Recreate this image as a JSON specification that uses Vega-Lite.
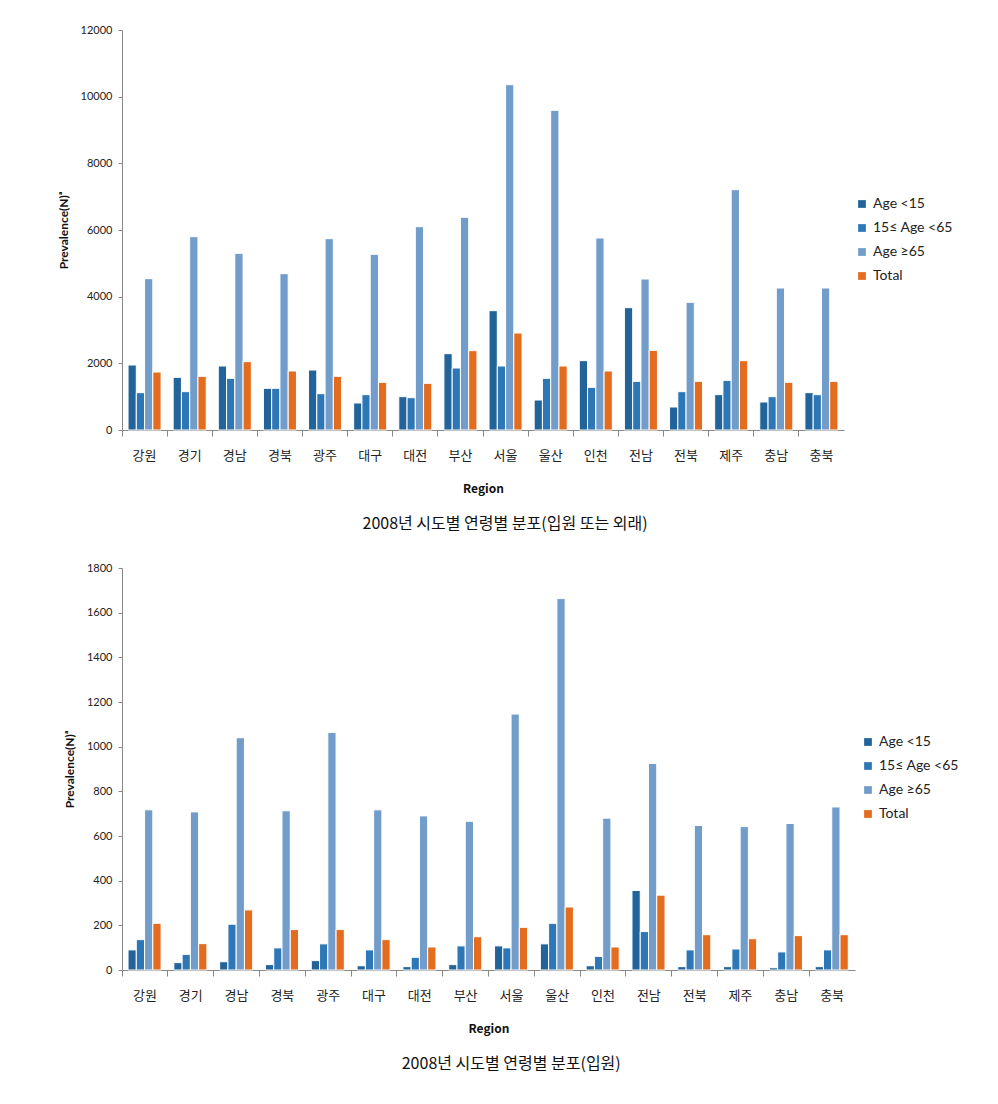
{
  "$schema": "https://vega.github.io/schema/vega-lite/v6.json",
  "padding": {"top": 24, "left": 57, "right": 5, "bottom": 5},
  "background": "white",
  "config": {
    "view": {"stroke": null},
    "axis": {"domainColor": "#888888", "tickColor": "#888888", "grid": false, "labelColor": "#222222", "titleColor": "#111111"},
    "legend": {"labelFont": "Lato", "labelFontSize": 14, "labelColor": "#222222", "symbolType": "square", "symbolSize": 60, "symbolStrokeWidth": 0, "rowPadding": 10, "labelOffset": 4}
  },
  "spacing": 30,
  "resolve": {"scale": {"color": "independent", "y": "independent", "x": "independent"}, "legend": {"color": "independent"}},
  "datasets": {
    "outpatient": [
      {"region": "강원", "group": "Age <15", "value": 1950},
      {"region": "강원", "group": "15≤ Age <65", "value": 1120},
      {"region": "강원", "group": "Age ≥65", "value": 4540},
      {"region": "강원", "group": "Total", "value": 1740},
      {"region": "경기", "group": "Age <15", "value": 1580},
      {"region": "경기", "group": "15≤ Age <65", "value": 1150},
      {"region": "경기", "group": "Age ≥65", "value": 5800},
      {"region": "경기", "group": "Total", "value": 1610},
      {"region": "경남", "group": "Age <15", "value": 1920},
      {"region": "경남", "group": "15≤ Age <65", "value": 1550},
      {"region": "경남", "group": "Age ≥65", "value": 5300},
      {"region": "경남", "group": "Total", "value": 2050},
      {"region": "경북", "group": "Age <15", "value": 1250},
      {"region": "경북", "group": "15≤ Age <65", "value": 1250},
      {"region": "경북", "group": "Age ≥65", "value": 4690},
      {"region": "경북", "group": "Total", "value": 1770},
      {"region": "광주", "group": "Age <15", "value": 1800},
      {"region": "광주", "group": "15≤ Age <65", "value": 1090},
      {"region": "광주", "group": "Age ≥65", "value": 5740},
      {"region": "광주", "group": "Total", "value": 1610},
      {"region": "대구", "group": "Age <15", "value": 810},
      {"region": "대구", "group": "15≤ Age <65", "value": 1060},
      {"region": "대구", "group": "Age ≥65", "value": 5270},
      {"region": "대구", "group": "Total", "value": 1430},
      {"region": "대전", "group": "Age <15", "value": 1000},
      {"region": "대전", "group": "15≤ Age <65", "value": 970},
      {"region": "대전", "group": "Age ≥65", "value": 6100},
      {"region": "대전", "group": "Total", "value": 1400},
      {"region": "부산", "group": "Age <15", "value": 2290},
      {"region": "부산", "group": "15≤ Age <65", "value": 1860},
      {"region": "부산", "group": "Age ≥65", "value": 6380},
      {"region": "부산", "group": "Total", "value": 2380},
      {"region": "서울", "group": "Age <15", "value": 3580},
      {"region": "서울", "group": "15≤ Age <65", "value": 1920},
      {"region": "서울", "group": "Age ≥65", "value": 10360},
      {"region": "서울", "group": "Total", "value": 2910},
      {"region": "울산", "group": "Age <15", "value": 900},
      {"region": "울산", "group": "15≤ Age <65", "value": 1550},
      {"region": "울산", "group": "Age ≥65", "value": 9590},
      {"region": "울산", "group": "Total", "value": 1920},
      {"region": "인천", "group": "Age <15", "value": 2080},
      {"region": "인천", "group": "15≤ Age <65", "value": 1280},
      {"region": "인천", "group": "Age ≥65", "value": 5760},
      {"region": "인천", "group": "Total", "value": 1770},
      {"region": "전남", "group": "Age <15", "value": 3670},
      {"region": "전남", "group": "15≤ Age <65", "value": 1460},
      {"region": "전남", "group": "Age ≥65", "value": 4530},
      {"region": "전남", "group": "Total", "value": 2390},
      {"region": "전북", "group": "Age <15", "value": 690},
      {"region": "전북", "group": "15≤ Age <65", "value": 1150},
      {"region": "전북", "group": "Age ≥65", "value": 3830},
      {"region": "전북", "group": "Total", "value": 1460},
      {"region": "제주", "group": "Age <15", "value": 1060},
      {"region": "제주", "group": "15≤ Age <65", "value": 1490},
      {"region": "제주", "group": "Age ≥65", "value": 7210},
      {"region": "제주", "group": "Total", "value": 2080},
      {"region": "충남", "group": "Age <15", "value": 840},
      {"region": "충남", "group": "15≤ Age <65", "value": 1000},
      {"region": "충남", "group": "Age ≥65", "value": 4260},
      {"region": "충남", "group": "Total", "value": 1430},
      {"region": "충북", "group": "Age <15", "value": 1120},
      {"region": "충북", "group": "15≤ Age <65", "value": 1060},
      {"region": "충북", "group": "Age ≥65", "value": 4260},
      {"region": "충북", "group": "Total", "value": 1460}
    ],
    "inpatient": [
      {"region": "강원", "group": "Age <15", "value": 90},
      {"region": "강원", "group": "15≤ Age <65", "value": 136},
      {"region": "강원", "group": "Age ≥65", "value": 717},
      {"region": "강원", "group": "Total", "value": 209},
      {"region": "경기", "group": "Age <15", "value": 33},
      {"region": "경기", "group": "15≤ Age <65", "value": 70},
      {"region": "경기", "group": "Age ≥65", "value": 708},
      {"region": "경기", "group": "Total", "value": 118},
      {"region": "경남", "group": "Age <15", "value": 37},
      {"region": "경남", "group": "15≤ Age <65", "value": 205},
      {"region": "경남", "group": "Age ≥65", "value": 1040},
      {"region": "경남", "group": "Total", "value": 269},
      {"region": "경북", "group": "Age <15", "value": 24},
      {"region": "경북", "group": "15≤ Age <65", "value": 99},
      {"region": "경북", "group": "Age ≥65", "value": 713},
      {"region": "경북", "group": "Total", "value": 181},
      {"region": "광주", "group": "Age <15", "value": 42},
      {"region": "광주", "group": "15≤ Age <65", "value": 117},
      {"region": "광주", "group": "Age ≥65", "value": 1064},
      {"region": "광주", "group": "Total", "value": 181},
      {"region": "대구", "group": "Age <15", "value": 19},
      {"region": "대구", "group": "15≤ Age <65", "value": 90},
      {"region": "대구", "group": "Age ≥65", "value": 717},
      {"region": "대구", "group": "Total", "value": 136},
      {"region": "대전", "group": "Age <15", "value": 15},
      {"region": "대전", "group": "15≤ Age <65", "value": 57},
      {"region": "대전", "group": "Age ≥65", "value": 690},
      {"region": "대전", "group": "Total", "value": 103},
      {"region": "부산", "group": "Age <15", "value": 24},
      {"region": "부산", "group": "15≤ Age <65", "value": 108},
      {"region": "부산", "group": "Age ≥65", "value": 666},
      {"region": "부산", "group": "Total", "value": 149},
      {"region": "서울", "group": "Age <15", "value": 108},
      {"region": "서울", "group": "15≤ Age <65", "value": 99},
      {"region": "서울", "group": "Age ≥65", "value": 1146},
      {"region": "서울", "group": "Total", "value": 191},
      {"region": "울산", "group": "Age <15", "value": 117},
      {"region": "울산", "group": "15≤ Age <65", "value": 209},
      {"region": "울산", "group": "Age ≥65", "value": 1663},
      {"region": "울산", "group": "Total", "value": 282},
      {"region": "인천", "group": "Age <15", "value": 19},
      {"region": "인천", "group": "15≤ Age <65", "value": 61},
      {"region": "인천", "group": "Age ≥65", "value": 680},
      {"region": "인천", "group": "Total", "value": 103},
      {"region": "전남", "group": "Age <15", "value": 356},
      {"region": "전남", "group": "15≤ Age <65", "value": 172},
      {"region": "전남", "group": "Age ≥65", "value": 925},
      {"region": "전남", "group": "Total", "value": 335},
      {"region": "전북", "group": "Age <15", "value": 15},
      {"region": "전북", "group": "15≤ Age <65", "value": 90},
      {"region": "전북", "group": "Age ≥65", "value": 647},
      {"region": "전북", "group": "Total", "value": 158},
      {"region": "제주", "group": "Age <15", "value": 15},
      {"region": "제주", "group": "15≤ Age <65", "value": 94},
      {"region": "제주", "group": "Age ≥65", "value": 642},
      {"region": "제주", "group": "Total", "value": 140},
      {"region": "충남", "group": "Age <15", "value": 10},
      {"region": "충남", "group": "15≤ Age <65", "value": 81},
      {"region": "충남", "group": "Age ≥65", "value": 656},
      {"region": "충남", "group": "Total", "value": 154},
      {"region": "충북", "group": "Age <15", "value": 15},
      {"region": "충북", "group": "15≤ Age <65", "value": 90},
      {"region": "충북", "group": "Age ≥65", "value": 730},
      {"region": "충북", "group": "Total", "value": 158}
    ]
  },
  "vconcat": [
    {
      "width": 722,
      "height": 400,
      "data": {"name": "outpatient"},
      "title": {"text": "2008년 시도별 연령별 분포(입원 또는 외래)", "orient": "bottom", "anchor": "middle", "frame": "bounds", "font": "Noto Sans CJK KR", "fontSize": 16, "fontWeight": "normal", "color": "#111111", "offset": 22},
      "mark": {"type": "bar", "stroke": "white", "strokeWidth": 1},
      "encoding": {
        "x": {"field": "region", "type": "nominal", "sort": null,
          "scale": {"paddingInner": 0, "paddingOuter": 0},
          "axis": {"title": "Region", "titleFont": "Noto Sans CJK KR", "titleFontSize": 12, "titleFontWeight": "bold", "titlePadding": 21, "labelAngle": 0, "labelFont": "Noto Sans CJK KR", "labelFontSize": 13, "labelPadding": 13, "bandPosition": 0, "tickSize": 6}},
        "xOffset": {"field": "group", "type": "nominal", "sort": ["Age <15", "15≤ Age <65", "Age ≥65", "Total"], "scale": {"paddingInner": 0, "paddingOuter": 0.73}},
        "y": {"field": "value", "type": "quantitative",
          "scale": {"domain": [0, 12000]},
          "axis": {"title": "Prevalence(N)ᵃ", "titleFont": "Lato", "titleFontSize": 12, "titleFontWeight": "bold", "titlePadding": 10, "values": [0, 2000, 4000, 6000, 8000, 10000, 12000], "format": "d", "labelFont": "Lato", "labelFontSize": 11, "tickSize": 4, "labelPadding": 6}},
        "color": {"field": "group", "type": "nominal",
          "scale": {"domain": ["Age <15", "15≤ Age <65", "Age ≥65", "Total"], "range": ["#22649A", "#2E77B7", "#729DCA", "#E46C1F"]},
          "legend": {"title": null, "orient": "none", "legendX": 733, "legendY": 167}}
      }
    },
    {
      "width": 733,
      "height": 402,
      "data": {"name": "inpatient"},
      "title": {"text": "2008년 시도별 연령별 분포(입원)", "orient": "bottom", "anchor": "middle", "frame": "bounds", "font": "Noto Sans CJK KR", "fontSize": 16, "fontWeight": "normal", "color": "#111111", "offset": 22},
      "mark": {"type": "bar", "stroke": "white", "strokeWidth": 1},
      "encoding": {
        "x": {"field": "region", "type": "nominal", "sort": null,
          "scale": {"paddingInner": 0, "paddingOuter": 0},
          "axis": {"title": "Region", "titleFont": "Noto Sans CJK KR", "titleFontSize": 12, "titleFontWeight": "bold", "titlePadding": 21, "labelAngle": 0, "labelFont": "Noto Sans CJK KR", "labelFontSize": 13, "labelPadding": 13, "bandPosition": 0, "tickSize": 6}},
        "xOffset": {"field": "group", "type": "nominal", "sort": ["Age <15", "15≤ Age <65", "Age ≥65", "Total"], "scale": {"paddingInner": 0, "paddingOuter": 0.73}},
        "y": {"field": "value", "type": "quantitative",
          "scale": {"domain": [0, 1800]},
          "axis": {"title": "Prevalence(N)ᵃ", "titleFont": "Lato", "titleFontSize": 12, "titleFontWeight": "bold", "titlePadding": 10, "values": [0, 200, 400, 600, 800, 1000, 1200, 1400, 1600, 1800], "format": "d", "labelFont": "Lato", "labelFontSize": 11, "tickSize": 4, "labelPadding": 6}},
        "color": {"field": "group", "type": "nominal",
          "scale": {"domain": ["Age <15", "15≤ Age <65", "Age ≥65", "Total"], "range": ["#22649A", "#2E77B7", "#729DCA", "#E46C1F"]},
          "legend": {"title": null, "orient": "none", "legendX": 739, "legendY": 167}}
      }
    }
  ]
}
